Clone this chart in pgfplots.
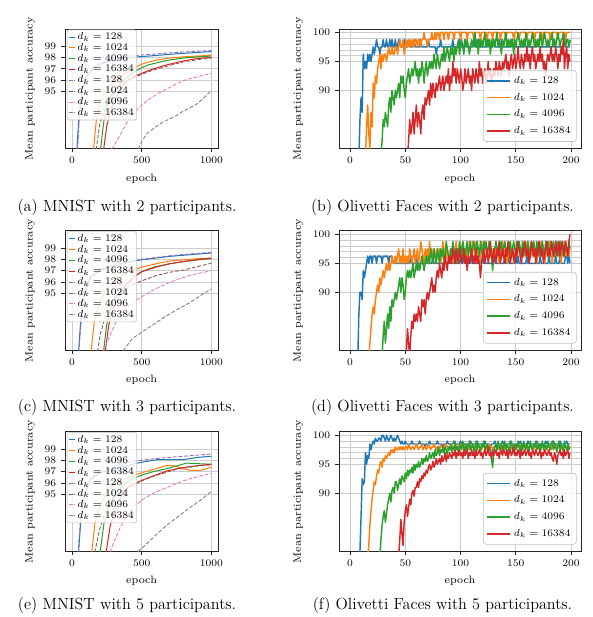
\documentclass[border=0pt]{standalone}
\usepackage{pgfplots}
\pgfplotsset{compat=1.18}

% matplotlib "tab10" colours
\definecolor{tb}{HTML}{1F77B4}
\definecolor{to}{HTML}{FF7F0E}
\definecolor{tg}{HTML}{2CA02C}
\definecolor{tr}{HTML}{D62728}
\definecolor{tp}{HTML}{9467BD}
\definecolor{tbr}{HTML}{8C564B}
\definecolor{tpk}{HTML}{E377C2}
\definecolor{tgy}{HTML}{7F7F7F}

\newcommand\lbl{\fontsize{7.4}{8.4}\selectfont}
\newcommand\capfont{\fontsize{11.15}{13}\selectfont}

\pgfplotsset{
  panel/.style={
    scale only axis, height=82.46pt,
    axis line style={black!85, line width=0.5pt},
    tick align=outside, tick pos=left,
    major tick length=2.5pt,
    every tick/.style={black!85, line width=0.5pt},
    xmajorgrids, ymajorgrids,
    major grid style={black!20, line width=0.5pt},
    tick label style={font=\lbl},
    label style={font=\lbl},
    scaled ticks=false,
    /pgf/number format/1000 sep={},
    xlabel={epoch}, ylabel={Mean participant accuracy},
    legend cell align=left,
  },
  mnist/.style={panel, width=105.8pt,
    xmin=-50, xmax=1050, ymin=90, ymax=100.5,
    xtick={0,500,1000}, ytick={95,96,97,98,99},
    legend style={at={(0.012,0.995)}, anchor=north west, font=\lbl,
      draw=black!25, rounded corners=1.5pt, fill=white, fill opacity=0.8,
      text opacity=1, inner xsep=0.8pt, inner ysep=0.8pt, row sep=-0.9pt,
      nodes={inner sep=1pt}},
    legend image code/.code={\draw[##1] (0pt,0pt) -- (4.5pt,0pt);},
  },
  oliv/.style={panel, width=166.98pt,
    xmin=-9.95, xmax=208.95, ymin=80, ymax=100.6,
    xtick={0,50,100,150,200}, ytick={90,95,100},
    minor ytick={96,97,98,99}, yminorgrids,
    minor grid style={black!20, line width=0.5pt},
    minor tick length=0pt,
    legend style={at={(0.982,0.056)}, anchor=south east, font=\lbl,
      draw=black!25, rounded corners=2pt, fill=white, fill opacity=0.8,
      text opacity=1, inner sep=2pt, row sep=1.2pt},
    legend image code/.code={\draw[##1] (0pt,0pt) -- (16pt,0pt);},
  },
  sl/.style={line width=0.7pt},
  dl/.style={line width=0.6pt, dash pattern=on 2.6pt off 1.3pt},
  ol/.style={line width=1pt, line join=round},
}

\begin{document}
\begin{tikzpicture}
\path[use as bounding box] (0,0) rectangle (409.17pt,425.73pt);

% ---------------- (a) MNIST, 2 participants ----------------
\begin{axis}[mnist, at={(44.85pt,323.27pt)}, anchor=south west]
\addplot[tb,sl] coordinates {(0,70) (20,82) (36,90) (50,92.8) (70,95) (100,96.2) (150,97) (200,97.4) (250,97.6) (300,97.75) (350,97.85) (400,97.95) (450,98.02) (500,98.08) (550,98.12) (600,98.17) (650,98.22) (700,98.27) (750,98.32) (800,98.36) (850,98.4) (900,98.44) (950,98.48) (1000,98.52)};
\addplot[to,sl] coordinates {(100,75) (140,86) (155,90) (175,92.5) (200,94) (250,95.3) (300,95.9) (350,96.3) (400,96.7) (450,97.1) (500,97.4) (550,97.6) (600,97.75) (650,97.85) (700,97.95) (800,98.05) (900,98.12) (1000,98.2)};
\addplot[tg,sl] coordinates {(150,78) (190,87) (205,90) (230,92.5) (260,94) (300,95) (350,95.7) (400,96.3) (450,96.75) (500,97.1) (550,97.35) (600,97.5) (650,97.65) (700,97.78) (800,97.95) (900,98.05) (1000,98.12)};
\addplot[tr,sl] coordinates {(180,80) (215,87) (228,90) (250,92) (280,93.5) (330,94.8) (380,95.7) (400,96) (450,96.35) (500,96.6) (550,96.85) (600,97.05) (650,97.25) (700,97.4) (800,97.7) (900,97.9) (1000,98.0)};
\addplot[tp,dl] coordinates {(0,68) (20,80) (40,90) (55,93) (75,95) (100,96.3) (150,97.1) (200,97.5) (300,97.9) (400,98.1) (500,98.22) (600,98.3) (700,98.4) (800,98.48) (900,98.55) (1000,98.6)};
\addplot[tbr,dl] coordinates {(120,78) (160,87) (175,90) (200,92.2) (250,94) (300,95) (350,95.6) (400,95.95) (450,96.25) (500,96.5) (550,96.75) (600,96.95) (700,97.3) (800,97.6) (900,97.8) (1000,97.95)};
\addplot[tpk,dl] coordinates {(250,82) (286,90) (300,90.2) (350,91.3) (400,92.4) (450,93.2) (500,93.8) (550,94.3) (600,94.7) (650,95.05) (700,95.35) (750,95.7) (800,95.95) (850,96.15) (900,96.3) (950,96.45) (1000,96.6)};
\addplot[tgy,dl] coordinates {(440,86) (477,90) (500,90.6) (537,91.3) (600,91.9) (650,92.3) (700,92.6) (751,92.9) (800,93.3) (850,93.6) (895,93.9) (950,94.5) (1000,95.1)};
\legend{$d_k=128$,$d_k=1024$,$d_k=4096$,$d_k=16384$,$d_k=128$,$d_k=1024$,$d_k=4096$,$d_k=16384$}
\end{axis}

% ---------------- (b) Olivetti Faces, 2 participants ----------------
\begin{axis}[oliv, at={(233.91pt,323.27pt)}, anchor=south west]
\addplot[tb,ol] table[x expr=\coordindex+7, y index=0, header=false, row sep=\\] {
72.5\\78\\85\\
88.75\\86.25\\96.25\\93.75\\95\\93.75\\96.25\\95\\96.25\\95\\
96.25\\97.5\\96.25\\97.5\\98.75\\97.5\\97.5\\96.25\\97.5\\97.5\\
98.75\\97.5\\97.5\\98.75\\97.5\\97.5\\98.75\\97.5\\98.75\\97.5\\
97.5\\98.75\\97.5\\97.5\\98.75\\98.75\\97.5\\97.5\\97.5\\98.75\\
97.5\\97.5\\97.5\\98.75\\97.5\\97.5\\97.5\\97.5\\98.75\\97.5\\
97.5\\97.5\\97.5\\97.5\\98.75\\97.5\\97.5\\97.5\\97.5\\97.5\\
97.5\\98.75\\97.5\\97.5\\97.5\\97.5\\97.5\\97.5\\96.25\\97.5\\
97.5\\97.5\\98.75\\97.5\\97.5\\97.5\\97.5\\97.5\\97.5\\97.5\\
97.5\\97.5\\97.5\\98.75\\97.5\\97.5\\97.5\\97.5\\97.5\\98.75\\
97.5\\97.5\\97.5\\97.5\\98.75\\97.5\\97.5\\97.5\\97.5\\97.5\\
97.5\\97.5\\98.75\\97.5\\97.5\\97.5\\98.75\\97.5\\97.5\\97.5\\
97.5\\97.5\\97.5\\97.5\\97.5\\98.75\\97.5\\97.5\\97.5\\97.5\\
98.75\\97.5\\97.5\\97.5\\97.5\\97.5\\97.5\\98.75\\97.5\\97.5\\
97.5\\97.5\\97.5\\97.5\\97.5\\97.5\\98.75\\97.5\\97.5\\97.5\\
97.5\\97.5\\97.5\\97.5\\97.5\\97.5\\97.5\\97.5\\98.75\\97.5\\
97.5\\97.5\\97.5\\97.5\\97.5\\97.5\\97.5\\97.5\\97.5\\97.5\\
98.75\\97.5\\97.5\\97.5\\97.5\\97.5\\97.5\\97.5\\97.5\\97.5\\
97.5\\97.5\\97.5\\97.5\\98.75\\97.5\\97.5\\97.5\\97.5\\97.5\\
97.5\\97.5\\97.5\\97.5\\98.75\\97.5\\97.5\\97.5\\97.5\\98.75\\
};
\addplot[to,ol] table[x expr=\coordindex+13, y index=0, header=false, row sep=\\] {
70\\78.75\\83.75\\87.5\\82.5\\80\\86.25\\
83.75\\91.25\\88.75\\92.5\\91.25\\93.75\\95\\96.25\\93.75\\96.25\\
95\\96.25\\96.25\\95\\96.25\\97.5\\96.25\\96.25\\97.5\\96.25\\
96.25\\97.5\\97.5\\96.25\\97.5\\98.75\\97.5\\97.5\\98.75\\96.25\\
97.5\\98.75\\97.5\\98.75\\97.5\\98.75\\97.5\\98.75\\97.5\\98.75\\
98.75\\97.5\\98.75\\98.75\\97.5\\98.75\\98.75\\100\\98.75\\98.75\\
97.5\\98.75\\98.75\\98.75\\100\\98.75\\98.75\\100\\98.75\\100\\
100\\98.75\\100\\100\\100\\98.75\\100\\100\\100\\98.75\\
100\\100\\100\\100\\98.75\\100\\100\\100\\100\\100\\
98.75\\100\\100\\100\\100\\100\\98.75\\100\\100\\100\\
100\\100\\98.75\\100\\100\\100\\100\\100\\98.75\\100\\
100\\100\\100\\100\\98.75\\100\\100\\100\\100\\98.75\\
100\\100\\100\\100\\100\\100\\98.75\\100\\100\\100\\
100\\98.75\\100\\100\\100\\100\\100\\100\\98.75\\100\\
100\\100\\100\\98.75\\100\\100\\100\\100\\100\\100\\
98.75\\100\\100\\100\\100\\100\\100\\98.75\\100\\100\\
100\\100\\100\\100\\98.75\\100\\100\\100\\100\\100\\
100\\98.75\\100\\100\\100\\100\\100\\100\\98.75\\100\\
100\\100\\100\\100\\100\\98.75\\100\\100\\100\\100\\
};
\addplot[tg,ol] table[x expr=\coordindex+27, y index=0, header=false, row sep=\\] {
75\\78.75\\81.25\\
85\\83.75\\86.25\\85\\83.75\\87.5\\88.75\\86.25\\90\\88.75\\
87.5\\90\\88.75\\90\\91.25\\88.75\\92.5\\91.25\\92.5\\90\\
88.75\\91.25\\92.5\\93.75\\91.25\\92.5\\93.75\\92.5\\93.75\\95\\
92.5\\93.75\\91.25\\93.75\\92.5\\95\\93.75\\91.25\\93.75\\95\\
92.5\\93.75\\95\\93.75\\95\\93.75\\96.25\\95\\93.75\\96.25\\
95\\93.75\\95\\96.25\\95\\97.5\\95\\96.25\\97.5\\96.25\\
95\\97.5\\96.25\\97.5\\95\\97.5\\96.25\\97.5\\98.75\\96.25\\
97.5\\98.75\\97.5\\96.25\\98.75\\97.5\\98.75\\97.5\\96.25\\97.5\\
98.75\\97.5\\98.75\\100\\97.5\\98.75\\96.25\\98.75\\97.5\\98.75\\
97.5\\98.75\\100\\97.5\\98.75\\97.5\\98.75\\96.25\\98.75\\97.5\\
98.75\\97.5\\98.75\\100\\97.5\\98.75\\97.5\\96.25\\98.75\\97.5\\
98.75\\100\\97.5\\98.75\\97.5\\98.75\\97.5\\98.75\\96.25\\98.75\\
97.5\\98.75\\100\\98.75\\97.5\\98.75\\97.5\\98.75\\97.5\\100\\
98.75\\97.5\\98.75\\97.5\\98.75\\100\\98.75\\97.5\\98.75\\97.5\\
98.75\\97.5\\100\\98.75\\97.5\\98.75\\100\\98.75\\97.5\\98.75\\
97.5\\98.75\\98.75\\100\\97.5\\98.75\\97.5\\98.75\\100\\98.75\\
97.5\\98.75\\98.75\\100\\98.75\\97.5\\98.75\\98.75\\97.5\\98.75\\
};
\addplot[tr,ol] table[x expr=\coordindex+51, y index=0, header=false, row sep=\\] {
70\\78.75\\81.25\\85\\82.5\\83.75\\86.25\\82.5\\85\\
87.5\\83.75\\86.25\\85\\82.5\\86.25\\87.5\\85\\88.75\\87.5\\
88.75\\90\\87.5\\91.25\\88.75\\91.25\\90\\88.75\\91.25\\90\\
91.25\\92.5\\90\\91.25\\92.5\\90\\91.25\\92.5\\91.25\\93.75\\
90\\92.5\\91.25\\95\\92.5\\93.75\\91.25\\93.75\\92.5\\91.25\\
93.75\\92.5\\90\\91.25\\93.75\\91.25\\92.5\\93.75\\91.25\\92.5\\
90\\93.75\\92.5\\91.25\\93.75\\92.5\\91.25\\95\\92.5\\93.75\\
91.25\\92.5\\93.75\\91.25\\92.5\\95\\92.5\\93.75\\91.25\\92.5\\
93.75\\92.5\\95\\93.75\\92.5\\95\\93.75\\92.5\\95\\93.75\\
95\\96.25\\93.75\\95\\92.5\\95\\96.25\\93.75\\95\\96.25\\
93.75\\95\\97.5\\95\\93.75\\96.25\\95\\93.75\\96.25\\95\\
97.5\\95\\96.25\\93.75\\96.25\\97.5\\95\\96.25\\93.75\\95\\
96.25\\95\\97.5\\95\\96.25\\93.75\\95\\92.5\\95\\96.25\\
95\\96.25\\97.5\\95\\96.25\\95\\97.5\\96.25\\93.75\\96.25\\
95\\97.5\\96.25\\98.75\\93.75\\96.25\\97.5\\93.75\\96.25\\95\\
};
\legend{$d_k=128$,$d_k=1024$,$d_k=4096$,$d_k=16384$}
\end{axis}

% ---------------- (c) MNIST, 3 participants ----------------
\begin{axis}[mnist, at={(44.85pt,184.02pt)}, anchor=south west]
\addplot[tb,sl] coordinates {(0,65) (30,82) (48,90) (65,93) (90,95) (130,96.4) (200,97) (300,97.4) (370,97.6) (450,97.85) (500,97.95) (600,98.1) (700,98.25) (800,98.35) (900,98.45) (1000,98.55)};
\addplot[to,sl] coordinates {(100,78) (125,86) (138,90) (160,92.5) (200,94.3) (250,95.4) (300,96.0) (370,96.65) (400,96.85) (450,97.1) (500,97.3) (550,97.45) (600,97.6) (700,97.85) (800,97.95) (900,98.05) (1000,98.1)};
\addplot[tg,sl] coordinates {(190,80) (215,87) (227,90) (250,92.3) (280,93.8) (320,94.8) (370,95.5) (400,95.9) (450,96.5) (500,96.9) (550,97.15) (600,97.35) (700,97.6) (800,97.8) (900,97.95) (1000,98.05)};
\addplot[tr,sl] coordinates {(200,80) (228,87) (240,90) (265,92.3) (300,93.8) (340,94.8) (370,95.45) (400,95.9) (450,96.5) (500,96.9) (600,97.3) (700,97.6) (800,97.8) (900,97.95) (1000,98.1)};
\addplot[tp,dl] coordinates {(0,63) (30,80) (50,90) (70,93.2) (95,95) (140,96.5) (200,97.1) (300,97.5) (400,97.8) (500,98.0) (600,98.15) (700,98.3) (800,98.42) (900,98.52) (1000,98.6)};
\addplot[tbr,dl] coordinates {(130,80) (165,87) (185,90) (203,91.4) (250,93.5) (300,94.6) (370,95.3) (400,95.6) (500,96.1) (600,96.55) (700,96.85) (800,97.05) (900,97.35) (1000,97.65)};
\addplot[tpk,dl] coordinates {(190,82) (227,90) (276,91.4) (320,92.6) (370,93.4) (420,94.1) (513,94.8) (600,95.4) (680,95.85) (750,96.2) (850,96.6) (1000,97.0)};
\addplot[tgy,dl] coordinates {(330,86) (370,90) (430,91.0) (513,91.7) (600,92.4) (680,93.05) (750,93.55) (848,94.2) (920,94.8) (1000,95.4)};
\legend{$d_k=128$,$d_k=1024$,$d_k=4096$,$d_k=16384$,$d_k=128$,$d_k=1024$,$d_k=4096$,$d_k=16384$}
\end{axis}

% ---------------- (d) Olivetti Faces, 3 participants ----------------
\begin{axis}[oliv, at={(233.91pt,184.02pt)}, anchor=south west]
\addplot[tb,ol] table[x expr=\coordindex+6, y index=0, header=false, row sep=\\] {
65\\78\\86.25\\90\\
90\\88.75\\93.75\\92.5\\93.75\\95\\96.25\\95\\96.25\\96.25\\
95\\96.25\\96.25\\96.25\\95\\96.25\\96.25\\96.25\\96.25\\95\\
96.25\\96.25\\96.25\\96.25\\96.25\\95\\96.25\\96.25\\96.25\\95\\
95\\95\\95\\95\\95\\95\\95\\95\\95\\95\\
95\\95\\95\\95\\95\\96.25\\95\\95\\95\\95\\
96.25\\95\\95\\95\\95\\95\\95\\95\\95\\95\\
95\\95\\95\\95\\95\\96.25\\95\\95\\95\\95\\
95\\95\\95\\95\\95\\95\\95\\95\\95\\95\\
95\\95\\95\\95\\95\\95\\95\\95\\95\\95\\
96.25\\95\\95\\96.25\\95\\95\\95\\95\\95\\95\\
96.25\\95\\95\\95\\95\\95\\95\\95\\95\\95\\
96.25\\95\\95\\95\\95\\95\\95\\95\\95\\95\\
95\\96.25\\95\\95\\95\\95\\95\\95\\95\\95\\
96.25\\95\\95\\96.25\\95\\95\\95\\95\\95\\95\\
96.25\\95\\96.25\\95\\95\\95\\95\\95\\95\\95\\
96.25\\95\\95\\95\\95\\95\\95\\95\\95\\95\\
95\\95\\96.25\\95\\95\\95\\95\\95\\95\\95\\
96.25\\95\\95\\95\\95\\95\\96.25\\95\\95\\95\\
96.25\\95\\95\\95\\95\\96.25\\96.25\\95\\96.25\\95\\
};
\addplot[to,ol] table[x expr=\coordindex+16, y index=0, header=false, row sep=\\] {
70\\78.75\\81.25\\83.75\\
86.25\\87.5\\86.25\\88.75\\90\\91.25\\90\\92.5\\91.25\\92.5\\
93.75\\92.5\\93.75\\95\\93.75\\95\\93.75\\95\\96.25\\95\\
95\\96.25\\95\\96.25\\97.5\\95\\96.25\\95\\97.5\\95\\
96.25\\95\\96.25\\95\\97.5\\96.25\\95\\96.25\\97.5\\95\\
96.25\\97.5\\95\\96.25\\98.75\\97.5\\96.25\\95\\97.5\\96.25\\
97.5\\95\\98.75\\96.25\\97.5\\95\\97.5\\96.25\\95\\97.5\\
96.25\\97.5\\95\\96.25\\98.75\\97.5\\95\\96.25\\97.5\\96.25\\
95\\97.5\\96.25\\97.5\\95\\96.25\\98.75\\96.25\\95\\97.5\\
96.25\\97.5\\98.75\\96.25\\97.5\\95\\97.5\\96.25\\98.75\\97.5\\
96.25\\98.75\\97.5\\96.25\\98.75\\97.5\\96.25\\97.5\\95\\98.75\\
97.5\\96.25\\98.75\\97.5\\96.25\\97.5\\98.75\\96.25\\97.5\\95\\
97.5\\96.25\\98.75\\97.5\\96.25\\95\\97.5\\96.25\\98.75\\97.5\\
96.25\\97.5\\95\\96.25\\97.5\\98.75\\96.25\\97.5\\95\\96.25\\
97.5\\96.25\\98.75\\97.5\\96.25\\95\\97.5\\96.25\\97.5\\98.75\\
96.25\\97.5\\95\\96.25\\97.5\\96.25\\98.75\\97.5\\96.25\\95\\
97.5\\96.25\\97.5\\98.75\\96.25\\97.5\\95\\96.25\\97.5\\96.25\\
98.75\\97.5\\96.25\\95\\97.5\\96.25\\97.5\\98.75\\96.25\\97.5\\
96.25\\95\\97.5\\96.25\\98.75\\97.5\\96.25\\97.5\\96.25\\97.5\\
};
\addplot[tg,ol] table[x expr=\coordindex+28, y index=0, header=false, row sep=\\] {
72\\78.75\\
82.5\\85\\81.25\\83.75\\86.25\\83.75\\87.5\\85\\88.75\\87.5\\
88.75\\90\\88.75\\90\\91.25\\92.5\\90\\92.5\\91.25\\88.75\\
90\\92.5\\93.75\\92.5\\93.75\\92.5\\93.75\\95\\92.5\\93.75\\
95\\93.75\\95\\93.75\\95\\96.25\\95\\93.75\\95\\96.25\\
95\\96.25\\95\\97.5\\96.25\\95\\97.5\\96.25\\95\\97.5\\
96.25\\95\\97.5\\96.25\\97.5\\95\\96.25\\98.75\\97.5\\96.25\\
95\\97.5\\96.25\\98.75\\97.5\\96.25\\95\\97.5\\96.25\\98.75\\
97.5\\96.25\\98.75\\97.5\\96.25\\97.5\\98.75\\96.25\\97.5\\98.75\\
96.25\\97.5\\98.75\\97.5\\96.25\\98.75\\97.5\\96.25\\98.75\\97.5\\
96.25\\98.75\\97.5\\98.75\\96.25\\97.5\\98.75\\97.5\\96.25\\93.75\\
96.25\\97.5\\98.75\\97.5\\96.25\\98.75\\97.5\\98.75\\96.25\\97.5\\
98.75\\97.5\\96.25\\98.75\\97.5\\98.75\\96.25\\97.5\\98.75\\97.5\\
96.25\\98.75\\97.5\\98.75\\97.5\\96.25\\98.75\\97.5\\98.75\\96.25\\
97.5\\98.75\\97.5\\96.25\\98.75\\97.5\\98.75\\97.5\\96.25\\98.75\\
97.5\\98.75\\96.25\\97.5\\98.75\\97.5\\96.25\\98.75\\97.5\\98.75\\
97.5\\96.25\\98.75\\97.5\\98.75\\96.25\\97.5\\98.75\\97.5\\96.25\\
98.75\\97.5\\98.75\\96.25\\97.5\\98.75\\97.5\\96.25\\98.75\\97.5\\
};
\addplot[tr,ol] table[x expr=\coordindex+49, y index=0, header=false, row sep=\\] {
70\\
78.75\\80\\83.75\\81.25\\78.75\\82.5\\85\\83.75\\86.25\\85\\
86.25\\85\\87.5\\86.25\\85\\88.75\\87.5\\88.75\\86.25\\88.75\\
90\\88.75\\90\\91.25\\92.5\\90\\91.25\\90\\92.5\\93.75\\
92.5\\95\\93.75\\92.5\\95\\93.75\\96.25\\95\\93.75\\96.25\\
95\\96.25\\95\\97.5\\96.25\\95\\97.5\\96.25\\95\\97.5\\
96.25\\95\\96.25\\97.5\\95\\96.25\\93.75\\96.25\\95\\96.25\\
97.5\\95\\96.25\\95\\97.5\\95\\96.25\\95\\92.5\\95\\
96.25\\97.5\\95\\96.25\\97.5\\95\\96.25\\98.75\\96.25\\95\\
97.5\\96.25\\95\\97.5\\96.25\\98.75\\95\\96.25\\97.5\\96.25\\
95\\97.5\\96.25\\98.75\\97.5\\95\\96.25\\97.5\\96.25\\95\\
97.5\\96.25\\98.75\\97.5\\96.25\\95\\97.5\\96.25\\98.75\\97.5\\
96.25\\97.5\\95\\96.25\\98.75\\97.5\\96.25\\97.5\\95\\97.5\\
96.25\\98.75\\97.5\\96.25\\97.5\\95\\96.25\\97.5\\98.75\\96.25\\
97.5\\96.25\\98.75\\97.5\\96.25\\97.5\\98.75\\96.25\\97.5\\98.75\\
96.25\\97.5\\98.75\\97.5\\96.25\\98.75\\97.5\\96.25\\98.75\\100\\
};
\legend{$d_k=128$,$d_k=1024$,$d_k=4096$,$d_k=16384$}
\end{axis}

% ---------------- (e) MNIST, 5 participants ----------------
\begin{axis}[mnist, at={(44.85pt,45.33pt)}, anchor=south west]
\addplot[tb,sl] coordinates {(0,62) (30,82) (48,90) (65,93) (90,95) (130,96.3) (200,96.9) (300,97.3) (393,97.5) (450,97.7) (513,97.85) (608,98.05) (700,98.05) (800,98.05) (900,98.25) (1000,98.35)};
\addplot[to,sl] coordinates {(110,80) (133,87) (143,90) (165,92.5) (200,94) (250,95.2) (300,95.8) (393,96.4) (450,96.7) (513,96.95) (600,97.25) (680,97.55) (740,97.5) (800,97.25) (850,97.1) (919,97.1) (960,97.25) (1000,97.4)};
\addplot[tg,sl] coordinates {(170,80) (193,87) (203,90) (230,92.5) (270,94) (320,95.2) (393,96.05) (450,96.45) (513,96.75) (600,97.05) (680,97.25) (750,97.5) (823,97.75) (900,97.7) (1000,97.65)};
\addplot[tr,sl] coordinates {(200,80) (235,87) (246,90) (275,92.3) (310,93.6) (350,94.8) (393,95.55) (450,95.95) (513,96.3) (600,96.7) (680,97.05) (750,97.25) (823,97.4) (919,97.55) (1000,97.65)};
\addplot[tp,dl] coordinates {(0,60) (30,80) (45,90) (62,93) (85,95) (130,96.4) (200,97.1) (300,97.55) (400,97.8) (500,98.0) (600,98.15) (700,98.25) (800,98.35) (900,98.45) (1000,98.55)};
\addplot[tbr,dl] coordinates {(120,80) (150,87) (165,90) (200,92) (250,93.8) (300,94.8) (393,95.5) (450,95.9) (513,96.25) (600,96.65) (680,96.95) (750,97.2) (823,97.35) (900,97.5) (1000,97.6)};
\addplot[tpk,dl] coordinates {(240,82) (275,90) (300,90.8) (350,92.2) (393,93.1) (450,94.0) (513,94.6) (600,95.2) (680,95.6) (750,95.95) (800,96.2) (900,96.55) (1000,96.85)};
\addplot[tgy,dl] coordinates {(440,86) (477,90) (530,90.6) (608,91.5) (680,92.3) (751,92.95) (830,93.7) (918,94.45) (1000,95.25)};
\legend{$d_k=128$,$d_k=1024$,$d_k=4096$,$d_k=16384$,$d_k=128$,$d_k=1024$,$d_k=4096$,$d_k=16384$}
\end{axis}

% ---------------- (f) Olivetti Faces, 5 participants ----------------
\begin{axis}[oliv, at={(233.91pt,45.33pt)}, anchor=south west]
\addplot[tb,ol] table[x expr=\coordindex+8, y index=0, header=false, row sep=\\] {
76\\80\\
86\\92.5\\91.5\\92\\97\\95\\96.5\\96\\98.5\\97.5\\
98.5\\99\\98.5\\99.5\\99\\99\\99.5\\99.5\\99\\100\\
100\\99.5\\99\\100\\99.5\\99\\99.5\\100\\99.5\\99\\
99.5\\99\\99.5\\100\\99.5\\99\\98.5\\99\\98.5\\98.5\\
99\\98.5\\98.5\\98.5\\98.5\\98.5\\99\\98.5\\98.5\\98.5\\
98.5\\98.5\\98.5\\99\\98.5\\98.5\\98.5\\98.5\\98\\98.5\\
98.5\\98.5\\99\\98.5\\98.5\\98.5\\98.5\\98.5\\98.5\\99\\
98.5\\98.5\\98.5\\98.5\\98\\98.5\\98.5\\98.5\\99\\98.5\\
98.5\\98.5\\98.5\\98.5\\99\\98.5\\98.5\\98.5\\98.5\\98.5\\
99\\98.5\\98.5\\98.5\\98.5\\98\\98.5\\98.5\\98.5\\99\\
98.5\\98.5\\98.5\\98.5\\98.5\\99\\98.5\\98.5\\98.5\\98.5\\
98.5\\98.5\\99\\98.5\\98.5\\98.5\\98.5\\98\\98.5\\98.5\\
98.5\\99\\98.5\\98.5\\98.5\\98.5\\98.5\\98.5\\99\\98.5\\
98.5\\98.5\\98.5\\98.5\\98.5\\99\\98.5\\98.5\\98.5\\98.5\\
98\\98.5\\98.5\\98.5\\99\\98.5\\98.5\\98.5\\98.5\\98.5\\
98.5\\99\\98.5\\98.5\\98.5\\98.5\\98.5\\98.5\\98.5\\99\\
98.5\\98.5\\98.5\\98\\98.5\\98.5\\98.5\\99\\98.5\\98.5\\
98.5\\98.5\\98.5\\98.5\\99\\98.5\\98.5\\98.5\\98.5\\98.5\\
99\\98.5\\98.5\\98.5\\98.5\\98.5\\99\\98.5\\98.5\\98.5\\
};
\addplot[to,ol] table[x expr=\coordindex+15, y index=0, header=false, row sep=\\] {
70\\79\\81\\84.5\\87\\
89\\90.5\\92\\91.5\\93\\94\\93.5\\95\\95.5\\94.5\\
96\\95.5\\96.5\\96\\96.5\\97\\96.5\\97.5\\97\\97.5\\
97\\98\\97.5\\97.5\\98\\97.5\\98\\97.5\\98\\97.5\\
98\\98\\97.5\\98.5\\98\\97.5\\98\\98\\97.5\\98\\
98.5\\98\\97.5\\98\\98\\98.5\\97.5\\98\\98\\97.5\\
98\\98.5\\98\\97.5\\98\\98\\98.5\\98\\97.5\\98\\
98\\97.5\\98.5\\98\\98\\97.5\\98\\98.5\\98\\97.5\\
98\\98\\98.5\\97.5\\98\\98\\98.5\\98\\97.5\\98\\
98.5\\98\\98\\97.5\\98\\98.5\\98\\98\\97.5\\98\\
98\\98.5\\98\\97.5\\98\\98\\98.5\\98\\98\\97.5\\
98\\98.5\\98\\98\\97.5\\98\\98.5\\98\\98\\97.5\\
98\\98\\98.5\\98\\97.5\\98\\98\\98.5\\98\\98\\
97.5\\98\\98.5\\98\\98\\97.5\\98\\98.5\\98\\98\\
97.5\\98\\98\\98.5\\98\\98\\97.5\\98\\98.5\\98\\
98\\97.5\\98\\98.5\\98\\98\\97.5\\98\\98\\98.5\\
98\\97.5\\98\\98\\98.5\\98\\98\\97.5\\98\\98.5\\
98\\98\\97.5\\98\\98.5\\98\\98\\97.5\\98\\98.5\\
98\\98\\97.5\\98\\98.5\\98\\98\\97.5\\98\\98\\
};
\addplot[tg,ol] table[x expr=\coordindex+26, y index=0, header=false, row sep=\\] {
72\\79\\82\\84.5\\
86\\87\\85\\86.5\\88\\89\\90\\88.5\\90.5\\91\\
90\\92\\92\\90.5\\91.5\\92.5\\91.5\\93\\92.5\\92\\
93.5\\92.5\\94\\93\\94\\93.5\\94.5\\93.5\\95\\94\\
95\\94.5\\95.5\\94.5\\95\\96\\95\\96\\95.5\\96.5\\
95.5\\96\\97\\96\\96.5\\97\\96\\97.5\\96.5\\97\\
98\\96.5\\97.5\\97\\98\\97\\98\\97.5\\96.5\\98\\
97.5\\98.5\\97\\98\\97.5\\99\\97.5\\98\\97\\98.5\\
98\\97.5\\99\\98\\97\\98.5\\97.5\\98\\99\\97.5\\
98\\98.5\\97\\98\\99\\97.5\\98.5\\98\\97\\98.5\\
98\\99\\97.5\\98\\98.5\\97\\98\\97.5\\96\\94.5\\
97\\98\\98.5\\97.5\\99\\98\\97.5\\98.5\\97\\98\\
99\\97.5\\98.5\\98\\97\\98.5\\99\\97.5\\98\\98.5\\
97.5\\98\\99\\98\\97\\98.5\\97.5\\99\\98\\97.5\\
98.5\\98\\97\\99\\98\\97.5\\98.5\\98\\99\\97.5\\
98\\98.5\\97\\98\\99\\97.5\\98.5\\98\\97.5\\99\\
98\\97.5\\98.5\\99\\97.5\\98\\98.5\\97\\98\\99\\
97.5\\98.5\\98\\97\\99\\98\\97.5\\98.5\\97.5\\98\\
};
\addplot[tr,ol] table[x expr=\coordindex+43, y index=0, header=false, row sep=\\] {
70\\79\\82\\85.5\\83\\81\\85\\
87\\88\\86\\87.5\\89\\88\\90\\90.5\\89.5\\91\\
91\\92\\91\\92.5\\92\\93\\92.5\\93.5\\93\\94\\
93.5\\94.5\\95\\94\\94.5\\95.5\\94.5\\95\\96\\95\\
95.5\\96\\95\\96.5\\95.5\\96\\97\\95.5\\96.5\\96\\
97\\96.5\\96\\97\\96.5\\97.5\\96\\97\\96.5\\97.5\\
96.5\\97\\96\\97.5\\96.5\\97\\97.5\\96\\97\\96.5\\
97.5\\96.5\\97\\96\\97.5\\96.5\\97\\97.5\\96.5\\97\\
96\\97\\97.5\\96.5\\97\\98\\96.5\\97\\96\\97.5\\
96.5\\97\\97.5\\96.5\\97\\96\\97.5\\97\\96.5\\97.5\\
97\\96.5\\97.5\\96\\97\\97.5\\96.5\\97\\98\\96.5\\
97\\96.5\\97.5\\97\\96\\97.5\\96.5\\97\\97.5\\96.5\\
97\\97.5\\96.5\\97\\96\\97.5\\97\\96.5\\97.5\\97\\
96.5\\97\\97.5\\96\\97\\96.5\\97.5\\97\\96.5\\97\\
97.5\\96.5\\97\\96\\95.5\\97\\96.5\\95\\96.5\\97\\
97.5\\96.5\\97\\96\\97.5\\96.5\\97\\97.5\\96\\97\\
};
\legend{$d_k=128$,$d_k=1024$,$d_k=4096$,$d_k=16384$}
\end{axis}

% sub-figure captions
\node[font=\capfont] at (87.63pt,282.9pt) {(a) MNIST with 2 participants.};
\node[font=\capfont] at (305.3pt,282.9pt) {(b) Olivetti Faces with 2 participants.};
\node[font=\capfont] at (87.63pt,144.9pt) {(c) MNIST with 3 participants.};
\node[font=\capfont] at (305.3pt,144.9pt) {(d) Olivetti Faces with 3 participants.};
\node[font=\capfont] at (87.63pt,7.9pt) {(e) MNIST with 5 participants.};
\node[font=\capfont] at (305.3pt,7.9pt) {(f) Olivetti Faces with 5 participants.};
\end{tikzpicture}
\end{document}
